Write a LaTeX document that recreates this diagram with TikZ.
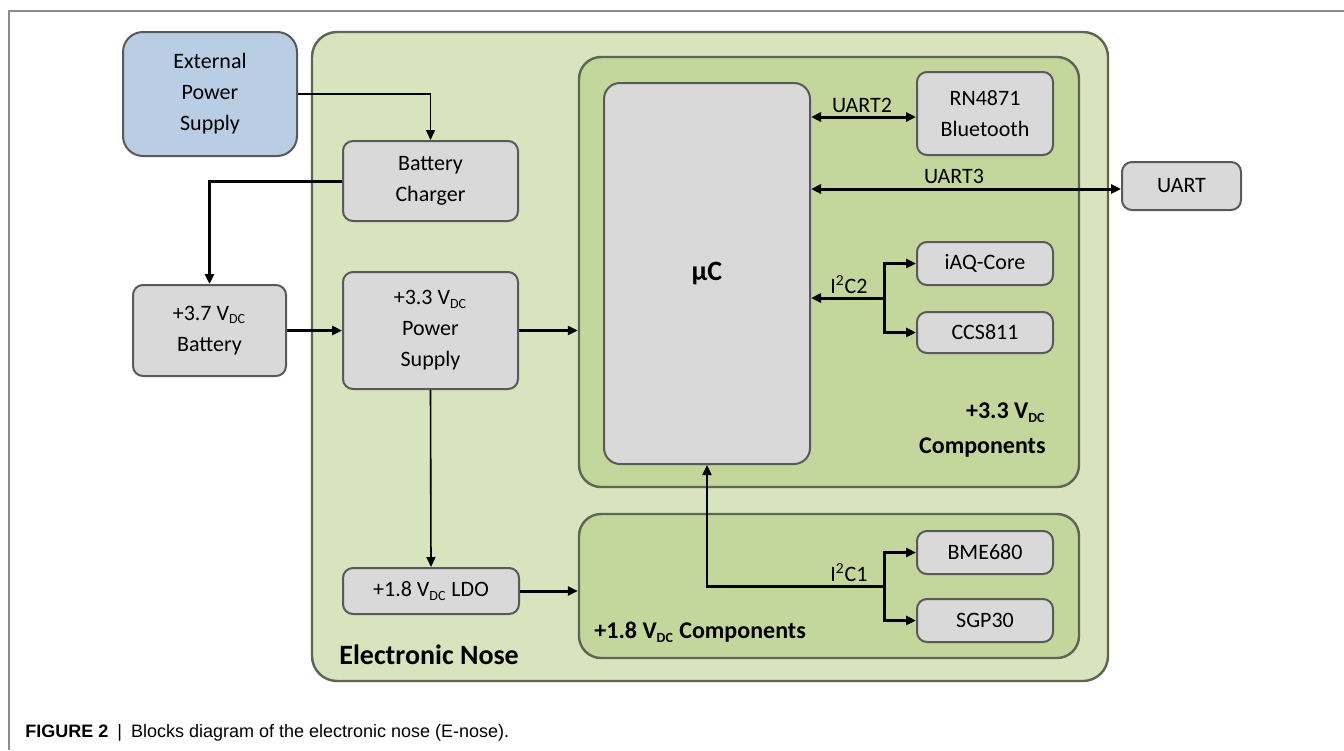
\documentclass[tikz,border=0pt]{standalone}
\usepackage{fontspec}
\setmainfont{Carlito}
\newfontfamily\capfont{Liberation Sans}
\usetikzlibrary{arrows.meta,calc}
\definecolor{outergreen}{HTML}{D7E4BD}
\definecolor{innergreen}{HTML}{C3D69B}
\definecolor{boxgray}{HTML}{D9D9D9}
\definecolor{extblue}{HTML}{B9CDE5}
\definecolor{edgegray}{HTML}{595959}
\definecolor{greenedge}{HTML}{5C6652}
\definecolor{framegray}{HTML}{8C8C8C}
\newcommand{\vdc}{V\textsubscript{\scriptsize DC}}
\begin{document}
\begin{tikzpicture}[x=0.5pt,y=-0.5pt,
  sz/.style 2 args={minimum width=#1*0.5pt,minimum height=#2*0.5pt},
  blk/.style={draw=edgegray,line width=1pt,fill=boxgray,rounded corners=5pt,inner sep=0pt,align=center,font=\fontsize{11}{15.5}\selectfont},
  grp/.style={draw=greenedge,line width=1.2pt,inner sep=0pt},
  lbl/.style={inner sep=0pt,anchor=base,font=\fontsize{11}{13}\selectfont},
  blbl/.style={inner sep=0pt,font=\fontsize{12}{17.5}\selectfont\bfseries},
  arr/.style={-{Triangle[length=5pt,width=4.5pt]},line width=0.8pt},
  tarr/.style={-{Triangle[length=5pt,width=4.5pt]},line width=1.5pt},
  darr/.style={{Triangle[length=5pt,width=4.5pt]}-{Triangle[length=5pt,width=4.5pt]},line width=1.5pt}
]
\useasboundingbox (0,0) rectangle (1344,750);
% figure frame
\draw[framegray,line width=0.6pt] (9,750) -- (9,11) -- (1344,11);

% groups
\node[grp,fill=outergreen,rounded corners=12.5pt,sz={796}{649}] (enose) at (710,356.5) {};
\node[grp,fill=innergreen,rounded corners=11pt,sz={500}{430}] (comp33) at (829,272) {};
\node[grp,fill=innergreen,rounded corners=11pt,sz={500}{144}] (comp18) at (829,586) {};

% blocks
\node[blk,fill=extblue,rounded corners=10pt,sz={174}{124}] (ext) at (210,94) {External\\Power\\Supply};
\node[blk,sz={175}{80}] (chg) at (430.5,181) {Battery\\Charger};
\node[blk,sz={153}{91}] (bat) at (209.5,330.5) {+3.7 \vdc\\Battery};
\node[blk,sz={175}{117}] (ps) at (430.5,330.5) {+3.3 \vdc\\Power\\Supply};
\node[blk,sz={176}{46}] (ldo) at (431,591) {+1.8 \vdc{} LDO};
\node[blk,rounded corners=8pt,sz={206}{381},font=\fontsize{14}{16}\selectfont\bfseries] (uc) at (707,273.5) {µC};
\node[blk,sz={136}{83}] (rn) at (985,113.5) {RN4871\\Bluetooth};
\node[blk,sz={119}{48}] (uart) at (1181.5,186) {UART};
\node[blk,sz={136}{43}] (iaq) at (985,263.5) {iAQ-Core};
\node[blk,sz={136}{41}] (ccs) at (985,332.5) {CCS811};
\node[blk,sz={136}{43}] (bme) at (985,552.5) {BME680};
\node[blk,sz={136}{43}] (sgp) at (985,620.5) {SGP30};

% group labels
\node[blbl,align=right,anchor=east] (l33) at (1046,430) {+3.3 \vdc\\Components};
\node[blbl,anchor=west] (l18) at (594,632) {+1.8 \vdc{} Components};
\node[inner sep=0pt,font=\fontsize{14}{16}\selectfont\bfseries,anchor=west] (lnose) at (339,655) {Electronic Nose};

% power connectors
\draw[arr] (ext.east) -| (chg.north);
\draw[tarr] (chg.west) -| (bat.north);
\draw[tarr] (bat.east) -- (ps.west);
\draw[tarr] (ps.east) -- (ps.east -| comp33.west);
\draw[arr] (ps.south) -- (ldo.north);
\draw[tarr] (ldo.east) -- (ldo.east -| comp18.west);

% data connectors
\coordinate (u2) at ($(rn.west)+(0,3.5)$);
\draw[darr] (u2 -| uc.east) -- (u2);
\node[lbl] (tu2) at (862,112) {UART2};
\coordinate (u3) at ($(uart.west)+(0,3)$);
\draw[darr] (u3 -| uc.east) -- (u3);
\node[lbl] (tu3) at (954,183) {UART3};

\coordinate (b2) at (884,298);
\draw[tarr] (b2) -- (b2 -| uc.east);
\draw[tarr] (b2) |- (iaq.west);
\draw[tarr] (b2) |- (ccs.west);
\node[lbl] (ti2) at (849,293) {I\textsuperscript{2}C2};

\coordinate (b1) at (884,586.5);
\draw[arr,line width=1.1pt] (b1) -| (uc.south);
\draw[tarr] (b1) |- (bme.west);
\draw[tarr] (b1) |- (sgp.west);
\node[lbl] (ti1) at (849,581) {I\textsuperscript{2}C1};

% caption
\node[inner sep=0pt,anchor=west,font=\capfont\fontsize{9}{11}\selectfont] (cap) at (25,733) {\textbf{FIGURE 2}\enspace|\enspace Blocks diagram of the electronic nose (E-nose).};
\end{tikzpicture}
\end{document}
